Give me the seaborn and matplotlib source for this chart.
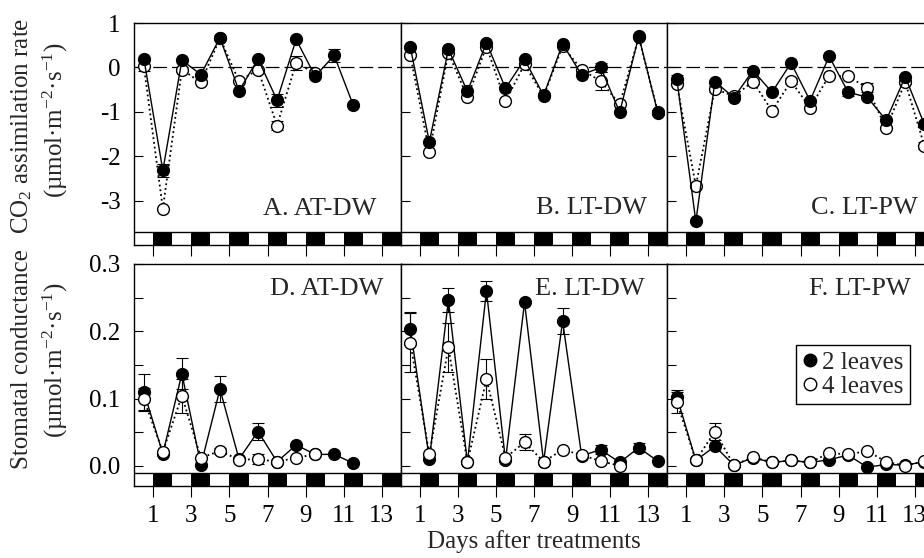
import numpy as np
import matplotlib
matplotlib.use("Agg")
import matplotlib.pyplot as plt
from matplotlib.lines import Line2D
import seaborn as sns

# sampling times (days after treatments)
days = [0.5, 1.5, 2.5, 3.5, 4.5, 5.5, 6.5, 7.5, 8.5, 9.5, 10.5, 11.5, 12.5, 13.5]
xticks = [1, 3, 5, 7, 9, 11, 13]
xtick_labels = ["1", "3", "5", "7", "9", "11", "13"]

# CO2 assimilation rate, 2 leaves (filled) / 4 leaves (open)
a_2 = [0.20, -2.32, 0.16, -0.16, 0.67, -0.53, 0.19, -0.74, 0.63, -0.20, 0.27, -0.85]
a_2_se = [0, 0.15, 0, 0, 0, 0, 0, 0.15, 0, 0, 0.15, 0]
a_4 = [0.03, -3.18, -0.05, -0.34, 0.66, -0.31, -0.05, -1.31, 0.10, -0.13]
a_4_se = [0.12, 0, 0.05, 0, 0, 0, 0, 0.11, 0.15, 0]

b_2 = [0.46, -1.68, 0.41, -0.54, 0.56, -0.47, 0.18, -0.63, 0.53, -0.17, 0.00, -1.01, 0.70, -1.02]
b_2_se = [0, 0, 0, 0, 0, 0, 0, 0, 0, 0, 0.10, 0, 0, 0.06]
b_4 = [0.27, -1.90, 0.33, -0.67, 0.47, -0.76, 0.07, -0.65, 0.48, -0.05, -0.31, -0.83, 0.68, -1.00]
b_4_se = [0, 0, 0, 0, 0, 0, 0, 0, 0, 0, 0.20, 0, 0, 0]

c_2 = [-0.26, -3.47, -0.32, -0.68, -0.07, -0.56, 0.10, -0.75, 0.25, -0.56, -0.67, -1.19, -0.21, -1.28]
c_2_se = [0.08, 0, 0, 0, 0, 0, 0, 0, 0, 0.08, 0, 0, 0, 0]
c_4 = [-0.38, -2.67, -0.48, -0.65, -0.32, -0.98, -0.31, -0.91, -0.19, -0.20, -0.46, -1.37, -0.33, -1.76]
c_4_se = [0, 0, 0.07, 0, 0.05, 0, 0.07, 0, 0, 0, 0.10, 0, 0.05, 0.07]

# stomatal conductance
d_2 = [0.110, 0.018, 0.137, 0.001, 0.114, 0.010, 0.051, 0.006, 0.031, 0.017, 0.017, 0.004]
d_2_se = [0.027, 0, 0.023, 0, 0.019, 0, 0.012, 0, 0, 0, 0, 0]
d_4 = [0.099, 0.021, 0.104, 0.012, 0.022, 0.009, 0.010, 0.006, 0.012, 0.017]
d_4_se = [0.017, 0, 0.025, 0, 0.005, 0, 0.008, 0, 0, 0]

e_2 = [0.204, 0.010, 0.246, 0.005, 0.260, 0.008, 0.243, 0.006, 0.215, 0.015, 0.024, 0.005, 0.027, 0.007]
e_2_se = [0.025, 0, 0.018, 0, 0.015, 0, 0, 0, 0.019, 0, 0.007, 0, 0.007, 0]
e_4 = [0.183, 0.017, 0.176, 0.005, 0.129, 0.012, 0.035, 0.006, 0.024, 0.016, 0.007, 0.000]
e_4_se = [0.044, 0, 0.037, 0, 0.030, 0, 0.012, 0, 0, 0, 0, 0]

f_2 = [0.103, 0.008, 0.029, 0.001, 0.012, 0.005, 0.008, 0.005, 0.009, 0.016, -0.002, 0.002, 0.001, 0.006]
f_2_se = [0.007, 0, 0, 0, 0, 0, 0, 0, 0, 0, 0, 0, 0, 0]
f_4 = [0.095, 0.008, 0.051, 0.001, 0.013, 0.005, 0.008, 0.005, 0.019, 0.017, 0.022, 0.006, 0.000, 0.007]
f_4_se = [0.017, 0, 0.012, 0, 0, 0, 0, 0, 0, 0, 0, 0, 0, 0]

panel_names = ["A. AT-DW", "B. LT-DW", "C. LT-PW", "D. AT-DW", "E. LT-DW", "F. LT-PW"]

sns.set_theme(style="ticks")
plt.rcParams["font.family"] = ["Liberation Serif", "DejaVu Serif"]
plt.rcParams["mathtext.fontset"] = "custom"
plt.rcParams["mathtext.rm"] = "Liberation Serif"
plt.rcParams["mathtext.it"] = "Liberation Serif:italic"
plt.rcParams["axes.unicode_minus"] = False

W, H = 924, 558
fig = plt.figure(figsize=(W / 100, H / 100), dpi=100)

pw, ph = 266.5, 222
lefts = [134.3, 400.8, 667.3]
bottoms = [245, 486]  # pixel y of bottom spine, top row / bottom row


def draw_series(ax, vals, se, filled, z):
    x = days[:len(vals)]
    if filled:
        sns.lineplot(x=x, y=vals, ax=ax, color="black", lw=1.0, linestyle="-",
                     marker="o", markersize=8.5, markerfacecolor="black",
                     markeredgecolor="black", markeredgewidth=1, zorder=z)
    else:
        sns.lineplot(x=x, y=vals, ax=ax, color="black", lw=1.3, linestyle=":",
                     marker="o", markersize=8.5, markerfacecolor="white",
                     markeredgecolor="black", markeredgewidth=1, zorder=z)
    ex = [xi for xi, s in zip(x, se) if s > 0]
    ey = [v for v, s in zip(vals, se) if s > 0]
    es = [s for s in se if s > 0]
    if es:
        ax.errorbar(ex, ey, yerr=es, fmt="none", ecolor="black", elinewidth=0.8,
                    capsize=4, capthick=0.8, zorder=z - 0.5)


def light_bar(ax, lo, top):
    segs = np.arange(14)
    cols = ["black" if s % 2 else "white" for s in segs]
    ax.bar(segs, top - lo, bottom=lo, width=1, align="edge", color=cols,
           edgecolor="none", zorder=1)
    ax.axhline(top, color="black", lw=1, zorder=1.5)


top_series = [(a_2, a_2_se, a_4, a_4_se), (b_2, b_2_se, b_4, b_4_se), (c_2, c_2_se, c_4, c_4_se)]
bot_series = [(d_2, d_2_se, d_4, d_4_se), (e_2, e_2_se, e_4, e_4_se), (f_2, f_2_se, f_4, f_4_se)]

top_lab_pos = [(0.91, 0.135), (0.924, 0.14), (0.94, 0.14)]
bot_lab_pos = [(0.933, 0.86), (0.916, 0.86), (0.913, 0.86)]

for row in range(2):
    for col in range(3):
        ax = fig.add_axes([lefts[col] / W, 1 - bottoms[row] / H, pw / W, ph / H])
        if row == 0:
            s2, e2, s4, e4 = top_series[col]
            ylo, yhi, bar_top = -4, 1, -3.7
            draw_series(ax, s4, e4, False, 3)
            draw_series(ax, s2, e2, True, 4)
            ax.axhline(0, color="black", lw=0.9, linestyle=(0, (11, 4)), zorder=2)
            ax.set_yticks([-4, -3, -2, -1, 0, 1])
            ax.set_yticklabels(["", "-3", "-2", "-1", "0", "1"])
            lx, ly = top_lab_pos[col]
            ax.text(lx, ly, panel_names[col], transform=ax.transAxes, ha="right",
                    va="baseline", fontsize=19)
        else:
            s2, e2, s4, e4 = bot_series[col]
            ylo, yhi, bar_top = -0.03, 0.3, -0.0105
            draw_series(ax, s2, e2, True, 3)
            draw_series(ax, s4, e4, False, 4)
            ax.set_yticks([0, 0.05, 0.1, 0.15, 0.2, 0.25, 0.3])
            ax.set_yticklabels(["0.0", "", "0.1", "", "0.2", "", "0.3"])
            lx, ly = bot_lab_pos[col]
            ax.text(lx, ly, panel_names[3 + col], transform=ax.transAxes, ha="right",
                    va="baseline", fontsize=19)
        light_bar(ax, ylo, bar_top)
        ax.set_xlim(0, 14)
        ax.set_ylim(ylo, yhi)
        ax.set_xticks(xticks)
        if row == 1:
            ax.set_xticklabels(xtick_labels)
        else:
            ax.set_xticklabels([])
        if col > 0:
            ax.set_yticklabels([])
        ax.tick_params(axis="y", direction="in", length=6.5, width=0.8, pad=10,
                       labelsize=18, colors="black")
        ax.tick_params(axis="x", direction="out", length=8, width=0.8, pad=6,
                       labelsize=18, colors="black")
        for sp in ax.spines.values():
            sp.set_color("black")
            sp.set_linewidth(1)
        ax.set_xlabel("")
        ax.set_ylabel("")
        if row == 1 and col == 2:
            handles = [
                Line2D([], [], linestyle="none", marker="o", markersize=9,
                       markerfacecolor="black", markeredgecolor="black"),
                Line2D([], [], linestyle="none", marker="o", markersize=9,
                       markerfacecolor="white", markeredgecolor="black"),
            ]
            leg = ax.legend(handles, ["2 leaves", "4 leaves"], loc="upper left",
                            bbox_to_anchor=(0.482, 0.635), borderaxespad=0,
                            fontsize=18, handlelength=0.6, handletextpad=0.2,
                            borderpad=0.25, labelspacing=0.05, fancybox=False,
                            framealpha=1, edgecolor="black")
            leg.get_frame().set_linewidth(1)

fig.text(22 / W, 1 - 126 / H, "CO$_2$ assimilation rate", rotation=90,
         ha="center", va="center", fontsize=18)
fig.text(55 / W, 1 - 120 / H, "(µmol·m$^{-2}$·s$^{-1}$)", rotation=90,
         ha="center", va="center", fontsize=18)
fig.text(22 / W, 1 - 359 / H, "Stomatal conductance", rotation=90,
         ha="center", va="center", fontsize=18)
fig.text(55 / W, 1 - 360 / H, "(µmol·m$^{-2}$·s$^{-1}$)", rotation=90,
         ha="center", va="center", fontsize=18)
fig.text(534 / W, 1 - 542 / H, "Days after treatments", ha="center", va="center",
         fontsize=18)

fig.savefig("out.png", dpi=100)
